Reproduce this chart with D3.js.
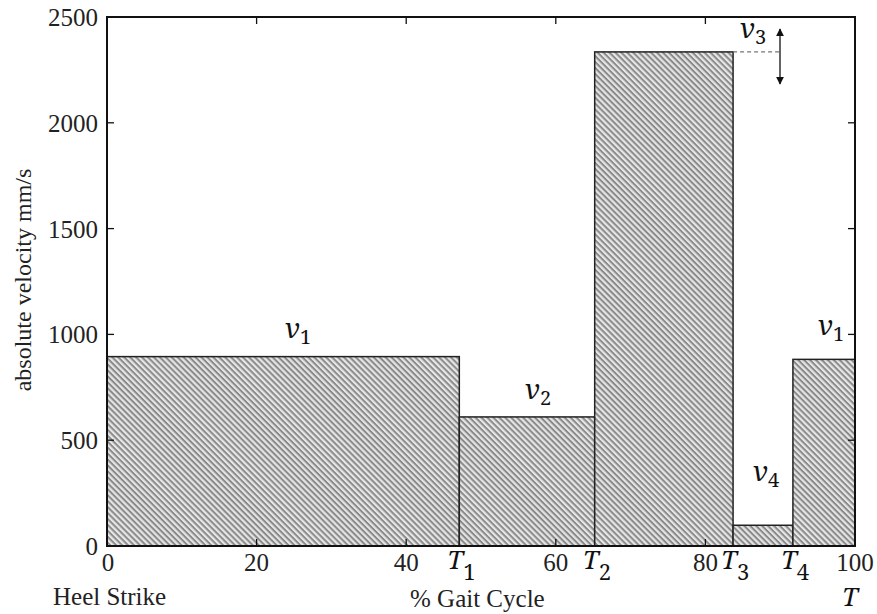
<!DOCTYPE html>
<html><head><meta charset="utf-8">
<script src="https://cdn.jsdelivr.net/npm/d3@7"></script>
</head><body style="margin:0"><svg id="c" width="877" height="614"></svg>
<script>
const phaseStart = [0, 47.1, 65.2, 83.7, 91.7];
const phaseEnd   = [47.1, 65.2, 83.7, 91.7, 100];
const velocity   = [895, 610, 2335, 98, 882];
const phaseLabels = ["1", "2", "3", "4", "1"];
const xTicks = [0, 20, 40, 60, 80, 100];
const yTicks = [0, 500, 1000, 1500, 2000, 2500];
const tLabels = ["1", "2", "3", "4"];

const SF = "Liberation Serif";
const MF = "Noto Serif";

const svg = d3.select("#c");
const m = {l:107, r:855, t:17, b:546};
const x = d3.scaleLinear().domain([0,100]).range([m.l, m.r]);
const y = d3.scaleLinear().domain([0,2500]).range([m.b, m.t]);

function txt(font, size, italic){
  const t = svg.append("text").attr("font-family",font).attr("font-size",size)
    .style("font-family",'"'+font+'"').style("font-size",size+"px");
  if (italic) t.attr("font-style","italic").style("font-style","italic");
  return t;
}

const defs = svg.append("defs");
const pat = defs.append("pattern").attr("id","hatch").attr("patternUnits","userSpaceOnUse")
  .attr("width",4.2).attr("height",4.2).attr("patternTransform","rotate(45)");
pat.append("rect").attr("width",4.2).attr("height",4.2).attr("fill","#e6e6e6");
pat.append("rect").attr("width",4.2).attr("height",2).attr("fill","#8a8a8a");

const data = velocity.map((v,i)=>({s:phaseStart[i], e:phaseEnd[i], v, lab:phaseLabels[i]}));

svg.selectAll("rect.bar").data(data).enter().append("rect").attr("class","bar")
  .attr("x",d=>x(d.s)).attr("width",d=>x(d.e)-x(d.s))
  .attr("y",d=>y(d.v)).attr("height",d=>y(0)-y(d.v))
  .attr("fill","url(#hatch)").attr("stroke","#222").attr("stroke-width",1.5);

svg.append("rect").attr("x",m.l).attr("y",m.t).attr("width",m.r-m.l).attr("height",m.b-m.t)
  .attr("fill","none").attr("stroke","#111").attr("stroke-width",2);

const tk = svg.append("g").attr("stroke","#111").attr("stroke-width",1.3);
xTicks.forEach(t=>{
  tk.append("line").attr("x1",x(t)).attr("x2",x(t)).attr("y1",m.b).attr("y2",m.b-7);
  tk.append("line").attr("x1",x(t)).attr("x2",x(t)).attr("y1",m.t).attr("y2",m.t+7);
});
yTicks.forEach(t=>{
  tk.append("line").attr("x1",m.l).attr("x2",m.l+7).attr("y1",y(t)).attr("y2",y(t));
  tk.append("line").attr("x1",m.r).attr("x2",m.r-7).attr("y1",y(t)).attr("y2",y(t));
});

yTicks.forEach(v=>{
  txt(SF,25).attr("x",m.l-9).attr("y",y(v)+9).attr("text-anchor","end").attr("fill","#222").text(v);
});
xTicks.forEach(v=>{
  txt(SF,25).attr("x",x(v)+(v===0?1:0)).attr("y",m.b+25).attr("text-anchor","middle").attr("fill","#222").text(v);
});

const tPos = phaseEnd.slice(0,4);
tLabels.forEach((l,i)=>{
  const t = txt(MF,26).attr("x",x(tPos[i])-12).attr("y",m.b+23).attr("fill","#111");
  t.append("tspan").attr("font-style","italic").style("font-style","italic").text("T");
  t.append("tspan").attr("dy",11).attr("font-size",22).style("font-size","22px").text(l);
});
txt(MF,26,true).attr("x",842).attr("y",606).attr("fill","#111").text("T");

txt(SF,25).attr("x",53).attr("y",605).attr("fill","#222").text("Heel Strike");
txt(SF,25).attr("x",410).attr("y",607).attr("fill","#222").text("% Gait Cycle");
txt(SF,24).attr("transform","translate(31,280) rotate(-90)").attr("text-anchor","middle")
  .attr("fill","#222").text("absolute velocity mm/s");

const vPos = [[285,338],[525,399],[740,38],[753,481],[818,335]];
data.forEach((d,i)=>{
  const t = txt(MF,28).attr("x",vPos[i][0]).attr("y",vPos[i][1]).attr("fill","#111");
  t.append("tspan").attr("font-style","italic").style("font-style","italic").text("v");
  t.append("tspan").attr("dy",6).attr("font-size",20).style("font-size","20px").text(d.lab);
});

svg.append("line").attr("x1",x(phaseEnd[2])).attr("x2",x(phaseEnd[2])+47).attr("y1",y(velocity[2])).attr("y2",y(velocity[2]))
  .attr("stroke","#777").attr("stroke-width",1.2).attr("stroke-dasharray","4,3");
defs.append("marker").attr("id","ah").attr("viewBox","0 0 10 10").attr("refX",9).attr("refY",5)
  .attr("markerWidth",6).attr("markerHeight",6).attr("orient","auto-start-reverse")
  .append("path").attr("d","M0,0 L10,5 L0,10 z").attr("fill","#111");
svg.append("line").attr("x1",780).attr("x2",780).attr("y1",29).attr("y2",84)
  .attr("stroke","#111").attr("stroke-width",1.3).attr("marker-start","url(#ah)").attr("marker-end","url(#ah)");
</script></body></html>
